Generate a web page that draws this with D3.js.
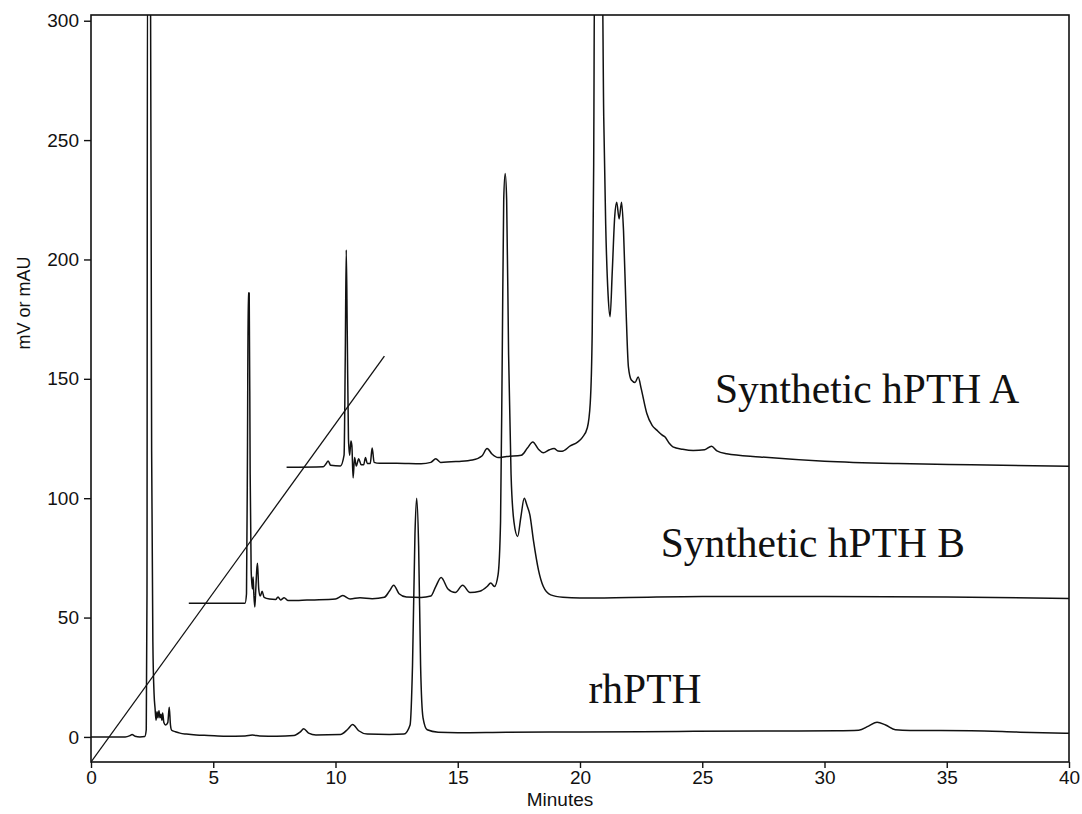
<!DOCTYPE html>
<html>
<head>
<meta charset="utf-8">
<script src="https://cdn.jsdelivr.net/npm/d3@7"></script>
<style>
  body { margin: 0; background: #fff; }
  .trace { fill: none; stroke: #111; stroke-width: 1.5; stroke-linejoin: round; }
  .tick text { font-family: "Liberation Sans", Arial, sans-serif; font-size: 19px; fill: #111; }
  .tick line { stroke: #111; stroke-width: 1.4; }
</style>
</head>
<body>
<div id="chart"></div>
<script>
var width = 1082;
var height = 814;
var margin = { top: 15, right: 13, bottom: 52, left: 91 };

// [minutes, signal]
var rhPTH = [
  [0, 0], [1.4, 0], [1.6, 0.6], [1.68, 1.0], [1.8, 0.3], [2.0, 0], [2.2, 0.2], [2.26, 3], [2.29, 60],
  [2.31, 330], [2.43, 330], [2.48, 120], [2.53, 40], [2.58, 18], [2.62, 12], [2.66, 7], [2.7, 10.5],
  [2.74, 8], [2.78, 11], [2.82, 8], [2.86, 9.5], [2.9, 7], [2.93, 10], [2.98, 6], [3.05, 5], [3.14, 6],
  [3.2, 12.4], [3.25, 5], [3.3, 2.8], [3.45, 2.2], [3.64, 1.6], [3.9, 1.2], [4.3, 0.8], [4.8, 0.6],
  [5.5, 0.3], [6.3, 0.4], [6.6, 0.8], [6.9, 0.4], [7.6, 0.3], [8.3, 0.6], [8.55, 2], [8.7, 3.4],
  [8.9, 1.6], [9.2, 0.8], [10.2, 1.0], [10.5, 3.2], [10.7, 5.2], [10.95, 2.6], [11.3, 1.2], [12.2, 1.0],
  [12.8, 1.2], [13.05, 5], [13.15, 30], [13.25, 85], [13.32, 100], [13.4, 80], [13.48, 30], [13.58, 8],
  [13.75, 3], [14.2, 2.0], [15, 1.8], [17, 2.0], [20, 2.1], [24, 2.3], [28, 2.5], [30.5, 2.6],
  [31.4, 2.8], [31.8, 4.5], [32.15, 6.2], [32.5, 5], [32.9, 3.0], [33.5, 2.7], [36, 2.6], [38, 2.0],
  [40, 1.5]
];

var hpthB = [
  [4, 56], [6.3, 56], [6.36, 60], [6.4, 120], [6.43, 186], [6.47, 186], [6.51, 110], [6.55, 70],
  [6.6, 62], [6.63, 67], [6.66, 60], [6.7, 54.4], [6.74, 62], [6.78, 70], [6.81, 72.7], [6.86, 62],
  [6.92, 59], [7.0, 61], [7.08, 58.5], [7.3, 57.8], [7.55, 57.6], [7.65, 58.6], [7.75, 57.4],
  [7.9, 58.3], [8.05, 57.2], [8.5, 57.2], [9, 57.4], [10, 57.8], [10.3, 59.2], [10.6, 57.8], [11, 58.3],
  [11.5, 57.9], [12.0, 58.5], [12.2, 61], [12.38, 63.5], [12.6, 60], [12.9, 58.6], [13.5, 58.4],
  [13.9, 59], [14.1, 63], [14.32, 66.8], [14.6, 62], [14.9, 60.5], [15.2, 63.5], [15.5, 60.5],
  [15.9, 61], [16.2, 63], [16.35, 64.5], [16.5, 63], [16.65, 68], [16.75, 90], [16.82, 160],
  [16.88, 225], [16.94, 236], [17.0, 225], [17.08, 160], [17.18, 110], [17.3, 90], [17.45, 84],
  [17.58, 92], [17.72, 100], [17.83, 97], [17.95, 93], [18.1, 82], [18.3, 70], [18.5, 63],
  [18.8, 59.5], [19.3, 58.5], [20, 58.2], [22, 58.4], [25, 58.8], [30, 58.8], [35, 58.6], [40, 58]
];

var hpthA = [
  [8, 113], [9.5, 113.2], [9.62, 114.5], [9.7, 115.6], [9.8, 113.8], [10.2, 113.5], [10.35, 118],
  [10.4, 160], [10.44, 204], [10.48, 170], [10.53, 125], [10.58, 118], [10.63, 124], [10.67, 122],
  [10.72, 108.5], [10.78, 117], [10.85, 113.5], [10.95, 116.5], [11.05, 114], [11.15, 114],
  [11.23, 117], [11.3, 114.5], [11.42, 114.5], [11.5, 121], [11.58, 115], [11.8, 114.6],
  [12.5, 114.6], [13.5, 114.4], [13.9, 115], [14.1, 116.5], [14.3, 115], [15, 115.4], [15.6, 116],
  [16.0, 117.8], [16.2, 120.8], [16.4, 118.5], [16.65, 117], [17.0, 117.5], [17.6, 118],
  [17.85, 121], [18.07, 123.5], [18.3, 120.5], [18.5, 119], [18.75, 120.3], [18.94, 120.8],
  [19.1, 119.8], [19.27, 119.7], [19.6, 121.9], [19.9, 123.5], [20.1, 125.5], [20.3, 129.5],
  [20.42, 140], [20.5, 170], [20.56, 240], [20.6, 330], [20.9, 330], [20.97, 260], [21.05, 215],
  [21.15, 185], [21.23, 176], [21.32, 195], [21.42, 218], [21.5, 224], [21.6, 217], [21.7, 224],
  [21.78, 212], [21.88, 180], [21.98, 155], [22.1, 149.5], [22.25, 148.5], [22.38, 150.8],
  [22.5, 146], [22.73, 135.6], [22.95, 130.5], [23.14, 128.5], [23.35, 126.5], [23.48, 125.6],
  [23.65, 123], [23.8, 121.5], [24.2, 120.5], [24.63, 120], [25.1, 120.3], [25.38, 121.8],
  [25.6, 119.8], [26, 118.6], [27.36, 117.3], [30, 115.5], [33, 114.5], [36, 114], [40, 113.4]
];

// gradient line drawn over the traces
var gradient = [[0, -10.5], [12, 159.5]];

var xTicks = [0, 5, 10, 15, 20, 25, 30, 35, 40];
var yTicks = [0, 50, 100, 150, 200, 250, 300];

var labelNames = ["Synthetic hPTH A", "Synthetic hPTH B", "rhPTH"];
var labelAt = [[25.52, 139.9], [23.3, 75.2], [20.35, 14.2]];

var x = d3.scaleLinear().domain([0, 40]).range([margin.left, width - margin.right]);
var y = d3.scaleLinear().domain([-10.5, 302.4]).range([height - margin.bottom, margin.top]);

var svg = d3.select("#chart").append("svg")
  .attr("width", width)
  .attr("height", height);

svg.append("defs").append("clipPath")
  .attr("id", "plot-clip")
  .append("rect")
  .attr("x", x(0))
  .attr("y", y(302.4))
  .attr("width", x(40) - x(0))
  .attr("height", y(-10.5) - y(302.4));

var line = d3.line()
  .x(d => x(d[0]))
  .y(d => y(d[1]))
  .curve(d3.curveMonotoneX);

var plot = svg.append("g").attr("clip-path", "url(#plot-clip)");

[rhPTH, hpthB, hpthA].forEach(series => {
  plot.append("path")
    .attr("class", "trace")
    .attr("d", line(series));
});

plot.append("path")
  .attr("class", "trace")
  .style("stroke-width", 1.3)
  .attr("d", d3.line().x(d => x(d[0])).y(d => y(d[1]))(gradient));

// frame
svg.append("rect")
  .attr("x", x(0))
  .attr("y", y(302.4))
  .attr("width", x(40) - x(0))
  .attr("height", y(-10.5) - y(302.4))
  .attr("fill", "none")
  .attr("stroke", "#111")
  .attr("stroke-width", 1.6);

svg.append("g")
  .attr("transform", "translate(0," + y(-10.5) + ")")
  .call(d3.axisBottom(x).tickValues(xTicks).tickSize(6).tickPadding(3).tickFormat(d3.format("d")))
  .call(g => g.select(".domain").remove());

svg.append("g")
  .attr("transform", "translate(" + x(0) + ",0)")
  .call(d3.axisLeft(y).tickValues(yTicks).tickSize(7).tickPadding(5).tickFormat(d3.format("d")))
  .call(g => g.select(".domain").remove());

svg.append("text")
  .attr("x", 560)
  .attr("y", 806)
  .attr("text-anchor", "middle")
  .attr("font-family", "Liberation Sans, Arial, sans-serif")
  .attr("font-size", 19)
  .attr("fill", "#111")
  .text("Minutes");

svg.append("text")
  .attr("transform", "translate(30,303) rotate(-90)")
  .attr("text-anchor", "middle")
  .attr("font-family", "Liberation Sans, Arial, sans-serif")
  .attr("font-size", 18)
  .attr("fill", "#111")
  .text("mV or mAU");

svg.append("g").selectAll("text")
  .data(labelNames)
  .enter()
  .append("text")
  .attr("x", (d, i) => x(labelAt[i][0]))
  .attr("y", (d, i) => y(labelAt[i][1]))
  .attr("font-family", "Liberation Serif, Times New Roman, serif")
  .attr("font-size", 41.5)
  .attr("fill", "#111")
  .text(d => d);
</script>
</body>
</html>
